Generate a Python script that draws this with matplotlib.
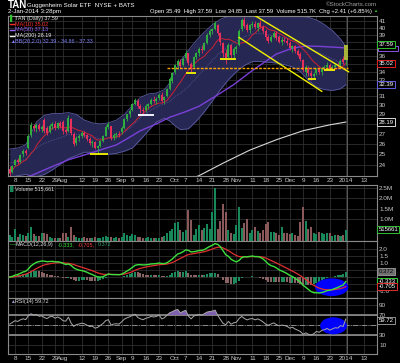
import numpy as np
import pandas as pd
import matplotlib
matplotlib.use("Agg")
import matplotlib.pyplot as plt
from matplotlib.patches import Ellipse, Rectangle
from matplotlib.lines import Line2D
from matplotlib.ticker import FixedLocator, FixedFormatter, NullLocator

plt.rcParams['font.family'] = ['Liberation Sans Narrow', 'Liberation Sans', 'DejaVu Sans']

# ---------------- data ----------------
holidays = ['2013-07-04', '2013-09-02', '2013-11-28', '2013-12-25', '2014-01-01']
calendar = [d.strftime('%Y-%m-%d') for d in pd.bdate_range('2013-07-03', '2014-01-24')
            if d.strftime('%Y-%m-%d') not in holidays]
n_days = 127
dates = calendar[:n_days]

opens = [23.7, 23.4, 24.0, 24.5, 24.3, 25.0, 25.3, 25.6, 26.9, 27.8,
         27.6, 27.9, 27.5, 28.4, 27.6, 27.2, 27.8, 28.0, 27.6, 28.1,
         28.2, 27.4, 27.3, 28.5, 27.0, 26.1, 26.6, 26.8, 27.1, 26.9,
         26.5, 26.1, 26.2, 25.6, 25.8, 26.3, 26.8, 27.7, 27.8, 26.6,
         26.9, 27.0, 27.2, 27.6, 28.5, 29.0, 29.5, 30.1, 30.5, 29.9,
         29.5, 29.5, 29.9, 30.2, 30.6, 30.5, 30.8, 31.2, 30.6, 31.0,
         31.9, 32.8, 33.9, 34.8, 35.3, 34.8, 35.8, 36.4, 35.0, 34.6,
         35.9, 36.4, 37.0, 36.9, 37.8, 39.0, 39.5, 39.9, 40.5, 39.2,
         37.8, 36.4, 35.9, 37.5, 36.2, 37.0, 37.5, 39.8, 41.2, 40.4,
         39.7, 40.4, 40.6, 40.0, 40.8, 40.2, 39.6, 38.7, 38.1, 38.7,
         39.2, 38.6, 38.0, 38.3, 38.1, 37.8, 37.1, 37.4, 36.7, 36.3,
         35.5, 34.0, 34.5, 33.8, 33.4, 33.8, 34.3, 33.9, 34.4, 34.6,
         34.9, 34.3, 34.6, 34.9, 34.8, 35.6, 35.49]
highs = [23.9, 24.0, 24.6, 24.7, 25.0, 25.5, 25.5, 27.0, 28.2, 28.0,
         28.1, 28.1, 27.9, 28.6, 27.8, 28.0, 28.2, 28.3, 28.2, 28.3,
         28.4, 27.6, 28.9, 28.6, 27.2, 26.8, 27.0, 27.3, 27.3, 27.0,
         26.7, 26.4, 26.3, 25.9, 26.4, 26.9, 27.9, 28.2, 27.8, 27.1,
         27.2, 27.3, 27.8, 28.6, 29.1, 29.6, 30.3, 30.8, 30.7, 30.2,
         29.8, 30.1, 30.3, 30.8, 31.1, 30.9, 31.4, 31.5, 31.0, 32.0,
         33.3, 34.0, 35.0, 35.6, 35.6, 35.9, 36.8, 36.5, 35.3, 36.0,
         36.6, 37.2, 37.6, 38.0, 39.2, 39.8, 40.0, 41.0, 40.6, 39.4,
         38.0, 37.0, 37.8, 37.7, 37.3, 37.6, 39.8, 41.5, 41.6, 40.8,
         40.6, 41.0, 41.1, 40.9, 41.2, 40.5, 39.9, 39.0, 38.9, 39.5,
         39.6, 38.9, 38.6, 38.7, 38.5, 38.1, 37.6, 37.5, 37.0, 36.6,
         35.7, 34.9, 34.7, 34.2, 33.9, 34.5, 34.5, 34.6, 34.8, 35.3,
         35.1, 34.8, 35.1, 35.3, 35.6, 36.0, 37.59]
lows = [23.1, 23.3, 23.9, 24.1, 24.2, 24.8, 24.9, 25.5, 26.7, 27.3,
        27.2, 27.3, 27.2, 27.1, 26.9, 27.1, 27.5, 27.4, 27.5, 27.6,
        27.0, 27.0, 27.2, 26.9, 25.8, 25.9, 26.3, 26.6, 26.7, 26.3,
        25.9, 25.7, 25.5, 25.0, 25.7, 26.2, 26.8, 27.5, 26.4, 26.4,
        26.6, 26.7, 27.0, 27.5, 28.3, 28.7, 29.4, 30.0, 29.7, 29.2,
        29.0, 29.3, 29.6, 30.0, 30.3, 30.1, 30.6, 30.4, 30.2, 30.9,
        31.8, 32.6, 33.7, 34.3, 34.4, 34.7, 35.5, 34.9, 33.8, 34.5,
        35.6, 36.1, 36.5, 36.8, 37.7, 38.6, 39.1, 39.7, 39.0, 37.6,
        35.9, 35.0, 35.7, 35.8, 35.6, 36.5, 37.4, 39.6, 40.0, 39.4,
        39.3, 40.0, 39.9, 39.6, 40.0, 39.2, 38.3, 37.8, 37.9, 38.5,
        38.3, 37.8, 37.6, 37.9, 37.6, 36.9, 36.6, 36.5, 36.0, 35.4,
        33.9, 33.5, 33.5, 33.0, 33.1, 33.6, 33.7, 33.6, 34.2, 34.4,
        34.2, 34.2, 34.4, 34.6, 34.7, 35.0, 34.85]
closes = [23.3, 23.9, 24.5, 24.3, 24.9, 25.3, 25.1, 26.8, 27.9, 27.6,
          27.9, 27.5, 27.7, 27.3, 27.1, 27.8, 28.0, 27.6, 28.1, 27.8,
          27.3, 27.2, 28.6, 27.1, 26.0, 26.6, 26.8, 27.1, 26.9, 26.5,
          26.1, 26.2, 25.6, 25.8, 26.3, 26.8, 27.7, 28.0, 26.6, 26.9,
          27.0, 26.9, 27.6, 28.5, 29.0, 29.4, 30.1, 30.6, 29.9, 29.6,
          29.4, 29.9, 30.2, 30.6, 30.5, 30.7, 31.2, 30.5, 30.9, 31.9,
          33.1, 33.8, 34.8, 35.4, 34.7, 35.7, 36.5, 35.1, 34.3, 35.9,
          36.4, 37.0, 36.8, 37.8, 39.0, 39.5, 39.8, 40.7, 39.3, 37.9,
          36.4, 35.8, 37.5, 36.2, 37.0, 37.3, 39.6, 41.2, 40.3, 39.7,
          40.4, 40.6, 40.1, 40.7, 40.2, 39.5, 38.6, 38.1, 38.7, 39.2,
          38.5, 38.0, 38.3, 38.1, 37.8, 37.1, 37.4, 36.7, 36.2, 35.6,
          34.2, 34.6, 33.8, 33.4, 33.7, 34.3, 33.9, 34.4, 34.6, 34.9,
          34.3, 34.6, 34.9, 34.8, 35.4, 35.18, 37.59]
volume_m = [0.26, 0.18, 0.54, 0.16, 0.30, 0.26, 0.22, 0.34, 0.62, 0.30,
            0.22, 0.20, 0.34, 0.34, 0.32, 0.15, 0.12, 0.10, 0.14, 0.12,
            0.34, 0.34, 0.18, 0.62, 0.25, 0.18, 0.14, 0.12, 0.15, 0.12,
            0.14, 0.12, 0.15, 0.14, 0.12, 0.18, 0.20, 0.18, 0.16, 0.14,
            0.15, 0.12, 0.15, 0.34, 0.25, 0.22, 0.30, 0.25, 0.18, 0.16,
            0.14, 0.13, 0.15, 0.12, 0.14, 0.12, 0.10, 0.15, 0.20, 0.37,
            0.45, 0.52, 0.81, 0.86, 0.50, 0.40, 0.48, 1.44, 0.97, 0.26,
            0.55, 0.73, 0.50, 0.57, 0.78, 0.52, 1.34, 2.50, 0.52, 0.94,
            1.72, 1.36, 0.50, 0.34, 0.30, 0.73, 1.56, 0.57, 0.81, 1.00,
            0.37, 0.50, 0.62, 0.45, 0.34, 0.50, 0.80, 0.89, 0.42, 0.40,
            0.37, 0.26, 0.65, 0.34, 0.37, 0.30, 0.34, 0.26, 0.20, 0.89,
            1.60, 0.94, 0.55, 0.65, 0.34, 0.30, 0.42, 0.37, 0.30, 0.34,
            0.34, 0.22, 0.25, 0.26, 0.22, 0.25, 0.516]

bb_dates = ['2013-07-03', '2013-07-09', '2013-07-12', '2013-07-16', '2013-07-18', '2013-07-23',
            '2013-07-26', '2013-07-31', '2013-08-05', '2013-08-08', '2013-08-13', '2013-08-16',
            '2013-08-21', '2013-08-26', '2013-08-29', '2013-09-04', '2013-09-09', '2013-09-12',
            '2013-09-17', '2013-09-20', '2013-09-25', '2013-09-27', '2013-10-01', '2013-10-03',
            '2013-10-08', '2013-10-11', '2013-10-16', '2013-10-21', '2013-10-24', '2013-10-29',
            '2013-11-01', '2013-11-06', '2013-11-11', '2013-11-14', '2013-11-19', '2013-11-22',
            '2013-11-27', '2013-12-03', '2013-12-06', '2013-12-11', '2013-12-16', '2013-12-19',
            '2013-12-24', '2013-12-30', '2014-01-02']
bb_upper = [25.5, 25.6, 25.9, 27.0, 28.2, 28.9, 29.1, 29.1, 29.2, 29.0, 28.4, 28.1,
            28.0, 28.1, 28.4, 29.0, 30.0, 30.9, 31.3, 31.4, 31.8, 32.6, 34.2, 35.4,
            36.8, 38.2, 39.4, 40.5, 41.3, 41.8, 42.2, 42.6, 43.0, 43.0, 42.8, 42.5,
            42.2, 42.0, 41.8, 41.6, 41.2, 40.5, 39.6, 38.4, 37.33]
bb_lower = [22.9, 23.1, 23.2, 23.1, 23.0, 23.2, 23.6, 24.1, 24.6, 24.9, 25.2, 25.2,
            25.0, 25.0, 25.1, 25.3, 25.6, 26.4, 27.3, 28.2, 28.6, 28.3, 27.8, 27.4,
            27.5, 28.3, 29.3, 30.5, 31.8, 33.0, 34.0, 34.8, 35.3, 35.3, 35.2, 35.1,
            34.9, 34.6, 34.0, 32.9, 32.1, 31.8, 31.7, 31.9, 32.39]

ma50_dates = ['2013-07-03', '2013-07-16', '2013-07-25', '2013-08-05', '2013-08-15', '2013-08-29',
              '2013-09-05', '2013-09-12', '2013-09-20', '2013-09-27', '2013-10-07', '2013-10-14',
              '2013-10-23', '2013-10-31', '2013-11-08', '2013-11-15', '2013-11-22', '2013-12-03',
              '2013-12-10', '2013-12-17', '2013-12-24', '2014-01-02']
ma50_vals = [22.7, 23.1, 23.8, 24.5, 25.1, 25.9, 26.5, 27.3, 28.0, 28.7, 29.3, 29.9,
             31.2, 32.4, 33.9, 35.1, 36.3, 37.1, 37.4, 37.35, 37.25, 37.13]

ma200_dates = ['2013-10-07', '2013-10-14', '2013-10-25', '2013-11-08', '2013-11-22',
               '2013-12-09', '2013-12-23', '2014-01-02']
ma200_vals = [22.7, 23.1, 24.2, 25.4, 26.4, 27.3, 27.9, 28.19]

# hand-drawn annotations (date, price)
trend_upper = [('2013-11-11', 42.1), ('2014-01-03', 34.0)]
trend_lower = [('2013-11-04', 38.6), ('2013-12-18', 31.6)]
support_dashed = [('2013-09-26', 34.45), ('2014-01-03', 34.45)]
support_marks = [('2013-08-15', '2013-08-26', 25.03, '#e8e800'),
                 ('2013-09-11', '2013-09-19', 28.94, '#f0f0ff'),
                 ('2013-10-07', '2013-10-11', 33.79, '#e8e800'),
                 ('2013-10-24', '2013-11-01', 35.60, '#e8e800'),
                 ('2013-12-11', '2013-12-16', 33.04, '#e8e800'),
                 ('2013-12-19', '2013-12-26', 34.20, '#e8e800')]

tick_dates = ['2013-07-08', '2013-07-15', '2013-07-22', '2013-07-29', '2013-08-01', '2013-08-12',
              '2013-08-19', '2013-08-26', '2013-09-03', '2013-09-09', '2013-09-16', '2013-09-23',
              '2013-10-01', '2013-10-07', '2013-10-14', '2013-10-21', '2013-10-28', '2013-11-01',
              '2013-11-11', '2013-11-18', '2013-11-25', '2013-12-02', '2013-12-09', '2013-12-16',
              '2013-12-23', '2014-01-02', '2014-01-13']
tick_labels = ['8', '15', '22', '29', 'Aug', '12', '19', '26', 'Sep', '9', '16', '23',
               'Oct', '7', '14', '21', '28', 'Nov', '11', '18', '25', 'Dec', '9', '16',
               '23', '2014', '13']

price_ticks = [24, 25, 26, 27, 28, 29, 30, 31, 32, 33, 34, 35, 36, 37, 38, 39, 40, 41]
price_tick_labels = ['24', '25', '26', '27', '', '29', '30', '31', '', '33', '34', '', '36',
                     '', '', '39', '40', '41']
vol_ticks = [1.0, 1.5, 2.0, 2.5]
vol_tick_labels = ['1.0M', '1.5M', '2.0M', '2.5M']
macd_ticks = [-1.0, -0.5, 0.0, 0.5, 1.0, 1.5, 2.0]
macd_tick_labels = ['-1.0', '', '', '', '1.0', '1.5', '2.0']
rsi_ticks = [10, 30, 50, 70, 90]
rsi_tick_labels = ['10', '30', '', '70', '90']

rsi_seed_gain, rsi_seed_loss = 0.30, 0.28   # pre-window RSI averages (estimated)

# ---------------- derived ----------------
pos = {dd: k for k, dd in enumerate(calendar)}
xs = np.arange(n_days)
o = np.array(opens); hi = np.array(highs); lo = np.array(lows); c = np.array(closes)
vol = np.array(volume_m)
cs = pd.Series(c)
ma10 = cs.rolling(10, min_periods=1).mean().to_numpy()
macd_line = (cs.ewm(span=12, adjust=False).mean() - cs.ewm(span=26, adjust=False).mean()).to_numpy()
signal_line = pd.Series(macd_line).ewm(span=9, adjust=False).mean().to_numpy()
hist = macd_line - signal_line
ag, al = rsi_seed_gain, rsi_seed_loss
rsi = [100 - 100 / (1 + ag / al)]
for k in range(1, n_days):
    chg = c[k] - c[k - 1]
    ag = (ag * 13 + max(chg, 0)) / 14
    al = (al * 13 + max(-chg, 0)) / 14
    rsi.append(100 - 100 / (1 + ag / al))
rsi = np.array(rsi)

bbx = [pos[dd] for dd in bb_dates]
bbu = np.array(bb_upper); bbl = np.array(bb_lower)
tpos = [pos[dd] for dd in tick_dates]

# ---------------- figure ----------------
W, H = 400, 363
fig = plt.figure(figsize=(W / 100, H / 100), dpi=100, facecolor='black')
L, R = 8, 377


def panel(top, bottom):
    ax = fig.add_axes([L / W, 1 - bottom / H, (R - L) / W, (bottom - top) / H])
    ax.set_facecolor('black')
    for s in ax.spines.values():
        s.set_color('#8a8a8a'); s.set_linewidth(0.8)
    ax.set_xlim(-0.65, 137.7)
    ax.set_xticks(tpos)
    ax.tick_params(axis='both', length=0, colors='#c8c8c8', labelsize=4.6, pad=1.5)
    ax.yaxis.tick_right()
    ax.grid(True, color='#2f2f2f', lw=0.6)
    ax.set_axisbelow(True)
    return ax


def ftext(px, py, s, **kw):
    kw.setdefault('fontsize', 4.6)
    kw.setdefault('va', 'center')
    fig.text(px / W, 1 - py / H, s, **kw)


def vbox(ax, val, s, ec, fc='black', tc='white'):
    ax.text(1.004, val, s, transform=ax.get_yaxis_transform(), fontsize=4.3, color=tc,
            va='center', ha='left', clip_on=False, zorder=20,
            bbox=dict(boxstyle='square,pad=0.18', fc=fc, ec=ec, lw=0.7))


ax1 = panel(16, 176)
ax2 = panel(185, 240.5)
ax3 = panel(241, 297.5)
ax4 = panel(298, 354)

# ---- MACD panel (drawn first) ----
ax3.set_ylim(-1.48, 2.60)
hcol = np.where(np.concatenate([[0], np.diff(hist)]) >= 0, '#1f8a5c', '#8a6464')
ax3.bar(xs, hist, width=0.78, color=hcol, lw=0, zorder=2)
ax3.add_patch(Ellipse((120.7, -0.74), 12.5, 1.28, color='#0000ff', zorder=2.5, lw=0))
ax3.plot(xs, signal_line, color='#e03030', lw=0.9, zorder=5)
ax3.plot(xs, macd_line, color='#3ee03e', lw=1.0, zorder=6)
ax3.set_yticks(macd_ticks)
ax3.set_yticklabels(macd_tick_labels)
ax3.set_xticklabels([])
vbox(ax3, 0.372, '0.372', '#909090', fc='#707070', tc='black')
vbox(ax3, -0.333, '-0.333', '#30d030')
vbox(ax3, -0.705, '-0.705', '#e03030')

# ---- price panel ----
ax1.set_yscale('log')
ax1.set_ylim(23.07, 41.81)
ax1.yaxis.set_major_locator(FixedLocator(price_ticks))
ax1.yaxis.set_major_formatter(FixedFormatter(price_tick_labels))
ax1.yaxis.set_minor_locator(NullLocator())
ax1.set_xticklabels(tick_labels)

ax1.fill_between(bbx, bbl, bbu, color='#272754', zorder=1, lw=0)
ax1.plot(bbx, bbu, color='#5a5aa0', lw=0.6, zorder=1.2)
ax1.plot(bbx, bbl, color='#5a5aa0', lw=0.6, zorder=1.2)
ax1.plot(bbx, (bbu + bbl) / 2, color='#6a6aa8', lw=0.5, ls=(0, (1, 1.5)), zorder=1.2)
ax1.plot([pos[dd] for dd in ma200_dates], ma200_vals, color='#d8d8d8', lw=0.8, zorder=2)
ax1.plot([pos[dd] for dd in ma50_dates], ma50_vals, color='#7a40d8', lw=1.0, zorder=2)
ax1.plot(xs, ma10, color='#cc2233', lw=0.7, zorder=2.1)

up = c >= o
ccol = np.where(up, '#2fae3f', '#e8305a')
ax1.vlines(xs, lo, hi, colors=ccol, lw=0.6, zorder=3)
body_lo = np.minimum(o, c)
body_h = np.maximum(np.abs(c - o), 0.06)
ax1.bar(xs, body_h, bottom=body_lo, width=0.72, color=ccol, lw=0, zorder=3.1)
ax1.bar(xs[-1:], body_h[-1:], bottom=body_lo[-1:], width=1.3, color='#aab43a', lw=0, zorder=3.2)

ax1.plot([pos[dd] for dd, _ in trend_upper], [p for _, p in trend_upper], color='#f2f200', lw=1.0, zorder=4)
ax1.plot([pos[dd] for dd, _ in trend_lower], [p for _, p in trend_lower], color='#f2f200', lw=1.0, zorder=4)
ax1.plot([pos[dd] for dd, _ in support_dashed], [p for _, p in support_dashed], color='#ffa500',
         lw=1.0, ls=(0, (2, 1)), zorder=4)
for d0, d1, p, mcol in support_marks:
    ax1.plot([pos[d0], pos[d1]], [p, p], color=mcol, lw=1.4, zorder=4.1, solid_capstyle='butt')

# MA(50) marker box peeking out under the last-price box
ax1.add_patch(Rectangle((1.004, 36.75), 0.052, 0.62, transform=ax1.get_yaxis_transform(),
                        fc='black', ec='#8a50e0', lw=0.7, clip_on=False, zorder=19))
vbox(ax1, 37.59, '37.59', '#30c030')
vbox(ax1, 35.02, '35.02', '#e02020')
vbox(ax1, 32.39, '32.39', '#6060e0')
vbox(ax1, 28.19, '28.19', '#d8d8d8')

# ---- volume panel ----
prev = np.concatenate([[c[0] - 0.1], c[:-1]])
vcol = np.where(c >= prev, '#16885a', '#8a5858')
ax2.bar(xs, vol, width=0.78, color=vcol, lw=0, zorder=2)
ax2.set_ylim(0, 2.62)
ax2.set_yticks(vol_ticks)
ax2.set_yticklabels(vol_tick_labels)
ax2.set_xticklabels([])
vbox(ax2, 0.515661, '515661', '#30c030')

# ---- RSI panel ----
ax4.set_ylim(-8, 104)
ax4.set_yticks(rsi_ticks)
ax4.set_yticklabels(rsi_tick_labels)
ax4.set_xticklabels(tick_labels)
ax4.axhline(70, color='#9a9a9a', lw=1.1, zorder=2)
ax4.axhline(30, color='#9a9a9a', lw=1.1, zorder=2)
ax4.axhline(50, color='#9a9a9a', lw=0.6, ls='-.', zorder=2)
ax4.fill_between(xs, 70, rsi, where=rsi > 70, interpolate=True, color='#8060b0', lw=0, zorder=2.2)
ax4.add_patch(Ellipse((121.4, 48.4), 10.0, 34, color='#0000ff', zorder=2.5, lw=0))
ax4.plot(xs, rsi, color='#a8a8a8', lw=0.7, zorder=5)
vbox(ax4, 59.72, '59.72', '#909090')

for axx in (ax1, ax2, ax3, ax4):
    axx.axvline(126.4, color='#5a5a5a', lw=0.7, zorder=0.6)

# ---- header & legends ----
ftext(8, 5.5, 'TAN', color='white', fontsize=7, fontweight='bold')
ftext(27, 5.5, 'Guggenheim Solar ETF  NYSE + BATS', color='white', fontsize=4.4)
ftext(377, 5, '\u00a9StockCharts.com', color='#a0a0a0', fontsize=4.4, ha='right')
ftext(8, 11.5, '2-Jan-2014 3:28pm', color='white', fontsize=4.4)
ftext(372, 11.5, 'Open 35.49  High 37.59  Low 34.85  Last 37.59  Volume 515.7K  Chg +2.41 (+6.85%)',
      color='white', fontsize=4.2, ha='right')
ftext(375.5, 11, '\u25b2', color='#30c030', fontsize=3, ha='center')

LF = 3.9
ftext(10, 18.3, '\u258c', color='#30c030', fontsize=4.6)
ftext(15, 18.3, 'TAN (Daily) 37.59', color='#e0e0e0', fontsize=LF)
ftext(15, 24.3, 'MA(10) 35.02', color='#ff2a2a', fontsize=LF)
ftext(15, 30.0, 'MA(50) 37.13', color='#9a66ff', fontsize=LF)
ftext(15, 35.7, 'MA(200) 28.19', color='#f0f0f0', fontsize=LF)
ftext(15, 41.7, 'BB(20,2.0) 32.39 - 34.86 - 37.33', color='#8484ff', fontsize=LF)
ftext(10, 41.7, '\u25b2', color='#8484ff', fontsize=3.5)
# small legend swatches drawn inside the price axes (axes-fraction coordinates)
for yy, lcol in ((24.3, '#ff2a2a'), (30.0, '#9a66ff'), (35.7, '#f0f0f0')):
    fy = (176 - yy) / 160
    ax1.add_line(Line2D([(10 - L) / (R - L), (14 - L) / (R - L)], [fy, fy], color=lcol, lw=1.0,
                        transform=ax1.transAxes, zorder=6))

ftext(10, 188.5, '\u2588', color='#16885a', fontsize=3.5)
ftext(15, 188.5, 'Volume 515,661', color='#e0e0e0', fontsize=LF)

ftext(9.5, 244.5, '\u2014', color='#3ee03e', fontsize=4.6)
ftext(15, 244.5, 'MACD(12,26,9)', color='#e0e0e0', fontsize=LF)
ftext(58, 244.5, '-0.333,', color='#3ee03e', fontsize=LF)
ftext(78, 244.5, '-0.705,', color='#ff4040', fontsize=LF)
ftext(98, 244.5, '0.372', color='#3ea06e', fontsize=LF)

ftext(10, 301.5, '\u25b2', color='#9a9ac8', fontsize=3.5)
ftext(15, 301.5, 'RSI(14) 59.72', color='#e0e0e0', fontsize=LF)

fig.savefig('out.png', dpi=100, facecolor='black')
